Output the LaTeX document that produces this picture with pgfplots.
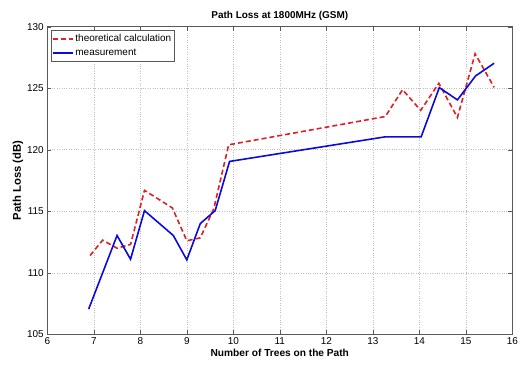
\documentclass[border=0pt]{standalone}
\usepackage{pgfplots}
\pgfplotsset{compat=1.18}
\usepackage{fontspec}
\setmainfont{Liberation Sans}
\definecolor{mred}{RGB}{225,30,35}
\definecolor{mblue}{RGB}{10,10,220}
\begin{document}
\begin{tikzpicture}
\begin{axis}[
  scale only axis,
  width=465bp, height=307.6bp,
  xmin=6, xmax=16, ymin=105, ymax=130,
  xtick={6,7,...,16}, ytick={105,110,...,130},
  tick align=inside,
  major tick length=4bp,
  grid=major,
  grid style={dotted, gray!50, line width=0.5pt},
  axis line style={gray!70!black, line width=0.6pt},
  tick style={gray!70!black},
  /pgf/number format/assume math mode=true,
  ticklabel style={font=\fontsize{10}{12}\selectfont},
  title={\bfseries Path Loss at 1800MHz (GSM)},
  title style={font=\fontsize{10}{12}\selectfont, yshift=-3bp},
  xlabel={\bfseries Number of Trees on the Path},
  ylabel={\bfseries Path Loss (dB)},
  xlabel style={font=\fontsize{10.2}{12}\selectfont, yshift=3bp},
  ylabel style={font=\fontsize{11.3}{13}\selectfont, yshift=-3bp},
  legend style={at={(rel axis cs:0.007,0.99)}, anchor=north west,
    font=\fontsize{10}{12}\selectfont, draw=gray!70!black, line width=0.6pt,
    inner xsep=1bp, inner ysep=2.5bp, row sep=2bp, cells={anchor=west}},
  legend cell align=left,
  legend image code/.code={\draw[#1, line width=1.6pt] (0bp,0bp) -- (20bp,0bp);},
]
\addplot[mred, line width=1.6pt, dash pattern=on 5bp off 3bp] coordinates {
(6.92,111.4) (7.19,112.65) (7.5,112.0) (7.79,112.3) (8.09,116.7)
(8.69,115.27) (9.0,112.6) (9.29,112.84) (9.58,115.2) (9.9,120.4)
(13.27,122.7) (13.64,124.88) (14.03,123.2) (14.42,125.4) (14.82,122.62)
(15.2,127.8) (15.61,125.07)
};
\addlegendentry{theoretical calculation}
\addplot[mblue, line width=1.6pt] coordinates {
(6.89,107.05) (7.5,113.03) (7.79,111.1) (8.09,115.05) (8.71,113.03)
(9.0,111.05) (9.29,114.0) (9.61,115.05) (9.92,119.05) (13.27,121.05)
(14.04,121.05) (14.43,125.05) (14.82,124.05) (15.21,126.0) (15.61,127.03)
};
\addlegendentry{measurement}
\end{axis}
\path (current axis.south west) +(-47.3bp,-33.7bp) (current axis.north east) +(13.7bp,26.7bp);
\end{tikzpicture}
\end{document}
